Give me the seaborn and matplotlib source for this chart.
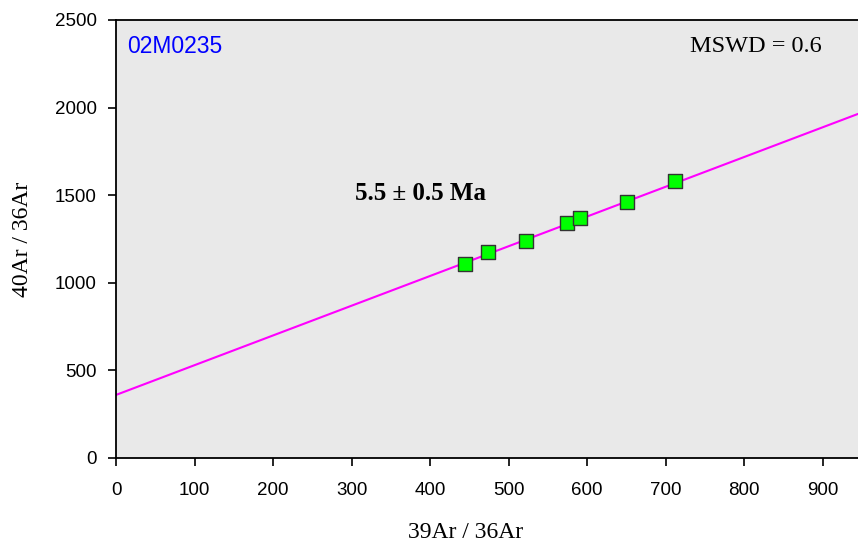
import numpy as np
import pandas as pd
import matplotlib
matplotlib.use("Agg")
import matplotlib.pyplot as plt
import seaborn as sns

# isochron data
ar39_36 = [445, 474, 522, 574, 591, 651, 712]
ar40_36 = [1109, 1174, 1237, 1341, 1368, 1459, 1579]

# fitted isochron line end points
line_x = [0, 945]
line_y = [360, 1964]

sample_name = "02M0235"
age_text = "5.5 ± 0.5 Ma"
mswd_text = "MSWD = 0.6"
x_ticks = [0, 100, 200, 300, 400, 500, 600, 700, 800, 900]
y_ticks = [0, 500, 1000, 1500, 2000, 2500]

sns.set_theme(style="ticks")
plt.rcParams['font.family'] = ['Liberation Sans', 'DejaVu Sans']
plt.rcParams['text.color'] = 'black'
plt.rcParams['axes.labelcolor'] = 'black'

df = pd.DataFrame({'x': ar39_36, 'y': ar40_36})
df_line = pd.DataFrame({'x': line_x, 'y': line_y})

fig = plt.figure(figsize=(8.58, 5.44), dpi=100)
ax = fig.add_axes([116 / 858, 86 / 544, 1 - 116 / 858, 438 / 544])
ax.set_facecolor('#e9e9e9')

sns.lineplot(data=df_line, x='x', y='y', ax=ax, color='#ff00ff', linewidth=1.5, zorder=2)
sns.scatterplot(data=df, x='x', y='y', ax=ax, marker='s', s=110, color='#00ff00',
                edgecolor='#333333', linewidth=1.0, zorder=3)

ax.set_xlim(0, 945)
ax.set_ylim(0, 2500)
ax.set_xticks(x_ticks)
ax.set_yticks(y_ticks)
ax.tick_params(axis='both', labelsize=13.5, length=6, width=1.2, colors='black')
ax.tick_params(axis='x', pad=11)
ax.tick_params(axis='y', pad=8)

for side in ['left', 'bottom', 'top']:
    ax.spines[side].set_color('black')
    ax.spines[side].set_linewidth(1.3)
ax.spines['right'].set_visible(False)

serif = ['Liberation Serif', 'DejaVu Serif']
ax.set_xlabel('39Ar / 36Ar', fontsize=17, family=serif)
ax.xaxis.set_label_coords(0.471, -0.146)
ax.set_ylabel('40Ar / 36Ar', fontsize=17, family=serif)
ax.yaxis.set_label_coords(-0.112, 0.5)

ax.text(0.015, 0.965, sample_name, transform=ax.transAxes, color='#0000ff',
        fontsize=16.5, ha='left', va='top')
ax.text(0.863, 0.94, mswd_text, transform=ax.transAxes, family=serif,
        fontsize=17.5, ha='center', va='center')
ax.text(388, 1510, age_text, family=serif, fontsize=18, fontweight='bold',
        ha='center', va='center')

fig.savefig('out.png', dpi=100)
